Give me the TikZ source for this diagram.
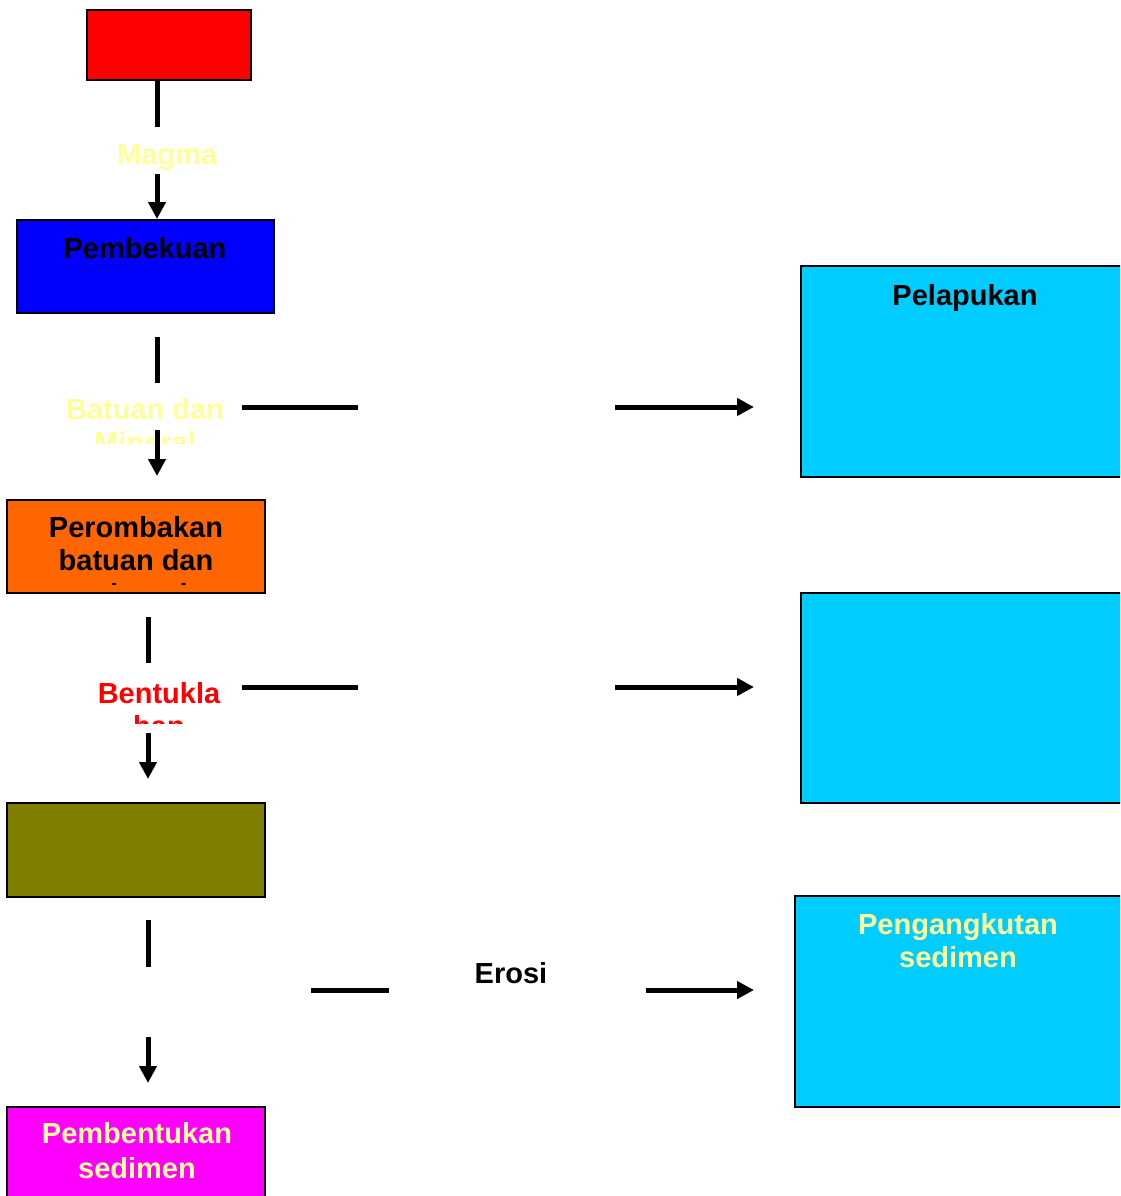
\documentclass[tikz,border=0pt]{standalone}
\usepackage{fontspec}
\setmainfont{Liberation Sans}
\usetikzlibrary{arrows.meta}
\definecolor{cRed}{HTML}{FF0000}
\definecolor{cBlue}{HTML}{0000FF}
\definecolor{cOrange}{HTML}{FF6600}
\definecolor{cOlive}{HTML}{808000}
\definecolor{cMagenta}{HTML}{FF00FF}
\definecolor{cCyan}{HTML}{00CCFF}
\definecolor{cYellow}{HTML}{FFFF99}
\begin{document}
\begin{tikzpicture}[x=1pt,y=-1pt,
  box/.style={draw=black, line width=2pt, inner sep=0pt, outer sep=0pt, anchor=north west},
  lbl/.style={font=\fontsize{29}{33.5}\selectfont\bfseries, inner sep=0pt, align=center, anchor=north},
  conn/.style={line width=5pt},
  arr/.style={conn, -{Triangle[length=17pt,width=17pt]}}]
\useasboundingbox (0,0) rectangle (1120,1196);
\clip (0,0) rectangle (1120,1196);

% boxes
\node[box, fill=cRed, minimum width=164pt, minimum height=70pt] (red) at (87,10) {};
\node[box, fill=cBlue, minimum width=257pt, minimum height=93pt] (blue) at (17,220) {};
\node[box, fill=cOrange, minimum width=258pt, minimum height=93pt] (orange) at (7,500) {};
\node[box, fill=cOlive, minimum width=258pt, minimum height=94pt] (olive) at (7,803) {};
\node[box, fill=cMagenta, minimum width=258pt, minimum height=110pt] (magenta) at (7,1107) {};
\node[box, fill=cCyan, minimum width=330pt, minimum height=211pt] (pel) at (801,266) {};
\node[box, fill=cCyan, minimum width=330pt, minimum height=210pt] (mid) at (801,593) {};
\node[box, fill=cCyan, minimum width=336pt, minimum height=211pt] (ang) at (795,896) {};

% labels
\node[lbl, text=black] (tPembekuan) at (145,237) {Pembekuan};
\node[lbl, text=cYellow] (tMagma) at (167,144) {Magma};
\begin{scope}
  \clip (0,0) rectangle (1120,443);
  \node[lbl, text=cYellow] (tBatuan) at (145,398) {Batuan dan\\Mineral};
\end{scope}
\begin{scope}
  \clip (0,0) rectangle (1120,584.5);
  \node[lbl, text=black] (tPerombakan) at (136,516) {Perombakan\\batuan dan\\mineral};
\end{scope}
\begin{scope}
  \clip (0,0) rectangle (1120,723);
  \node[lbl, text=cRed] (tBentuk) at (159,682) {Bentukla\\han};
\end{scope}
\node[lbl, text=black] (tPelapukan) at (965,284) {Pelapukan};
\node[lbl, text=cYellow] (tAngkut) at (958,913) {Pengangkutan\\sedimen};
\node[lbl, text=black] (tErosi) at (511,962) {Erosi};
\node[lbl, text=cYellow, font=\fontsize{29}{35}\selectfont\bfseries] (tSedimen) at (137,1122) {Pembentukan\\sedimen};

% connector coordinates
\coordinate (a1) at (157,127);
\coordinate (a2) at (157,174);
\coordinate (b1) at (157,337);
\coordinate (b2) at (157,383);
\coordinate (b3) at (157,430);
\coordinate (c1) at (148,617);
\coordinate (c2) at (148,663);
\coordinate (c3) at (148,733);
\coordinate (d1) at (148,920);
\coordinate (d2) at (148,967);
\coordinate (d3) at (148,1037);
\coordinate (h1a) at (242,407);
\coordinate (h1b) at (358,407);
\coordinate (h1c) at (615,407);
\coordinate (h1d) at (754,407);
\coordinate (h2a) at (242,687);
\coordinate (h2b) at (358,687);
\coordinate (h2c) at (615,687);
\coordinate (h2d) at (754,687);
\coordinate (h3a) at (311,990);
\coordinate (h3b) at (389,990);
\coordinate (h3c) at (646,990);
\coordinate (h3d) at (754,990);

% connectors
\draw[conn] (red.south -| a1) -- (a1);
\draw[arr] (a2) -- ([yshift=1pt]blue.north -| a2);
\draw[conn] (b1) -- (b2);
\draw[arr] (b3) -- ([yshift=24pt]orange.north -| b3);
\draw[conn] (c1) -- (c2);
\draw[arr] (c3) -- ([yshift=24pt]olive.north -| c3);
\draw[conn] (d1) -- (d2);
\draw[arr] (d3) -- ([yshift=24pt]magenta.north -| d3);
\draw[conn] (h1a) -- (h1b);
\draw[arr] (h1c) -- (h1d);
\draw[conn] (h2a) -- (h2b);
\draw[arr] (h2c) -- (h2d);
\draw[conn] (h3a) -- (h3b);
\draw[arr] (h3c) -- (h3d);
\end{tikzpicture}
\end{document}
